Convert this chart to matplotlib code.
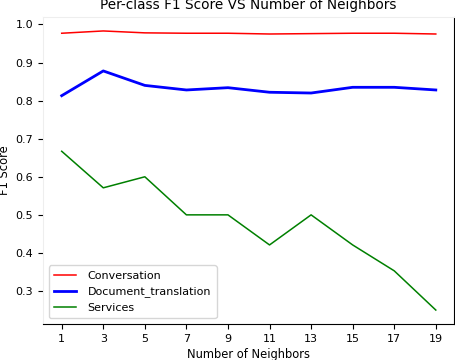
import matplotlib
matplotlib.use('Agg')
import matplotlib.pyplot as plt

neighbors = [1, 3, 5, 7, 9, 11, 13, 15, 17, 19]
conversation = [0.977, 0.983, 0.978, 0.977, 0.977, 0.975, 0.976, 0.977, 0.977, 0.975]
document_translation = [0.813, 0.878, 0.840, 0.828, 0.834, 0.822, 0.820, 0.835, 0.835, 0.828]
services = [0.667, 0.571, 0.600, 0.500, 0.500, 0.421, 0.500, 0.421, 0.353, 0.250]

fig = plt.figure(figsize=(4.56, 3.6), dpi=100)
ax = fig.add_axes([43 / 456, 1 - 324 / 360, (454.5 - 43) / 456, (324 - 17) / 360])

ax.plot(neighbors, conversation, color='red', lw=1.1, label='Conversation')
ax.plot(neighbors, document_translation, color='blue', lw=2, label='Document_translation')
ax.plot(neighbors, services, color='green', lw=1.1, label='Services')

ax.set_xticks(neighbors)
ax.set_yticks([0.3, 0.4, 0.5, 0.6, 0.7, 0.8, 0.9, 1.0])
ax.tick_params(labelsize=8)
ax.set_xlabel('Number of Neighbors', fontsize=8.3, labelpad=3)
ax.set_ylabel('F1 Score', fontsize=8.3, labelpad=3)
ax.set_title('Per-class F1 Score VS Number of Neighbors', fontsize=9.8)

ax.spines['top'].set_color('#eeeeee')
ax.spines['left'].set_color('#eeeeee')

ax.legend(loc='lower left', fontsize=8, handletextpad=1.0, borderpad=0.5)

fig.savefig('out.png', dpi=100)
